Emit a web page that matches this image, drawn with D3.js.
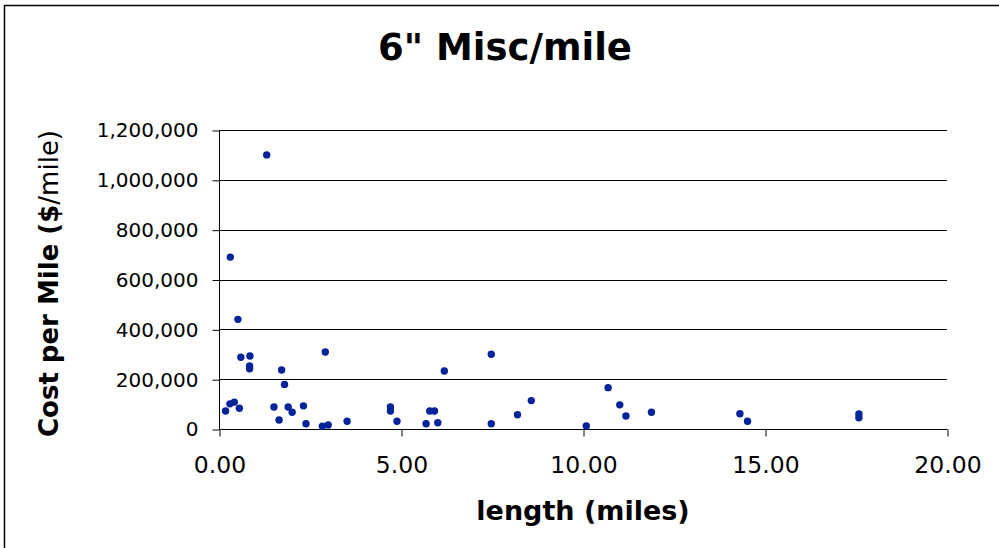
<!DOCTYPE html>
<html>
<head>
<meta charset="utf-8">
<script src="https://cdn.jsdelivr.net/npm/d3@7"></script>
<style>
  body { margin: 0; background: #fff; }
  svg text { font-family: "DejaVu Sans"; }
</style>
</head>
<body>
<svg id="chart" width="999" height="548"></svg>
<script>
// length of each segment (miles)
const lengths = [1.31, 0.31, 0.52, 0.60, 0.85, 0.84, 0.84, 1.72, 1.80, 2.92, 6.19,
  0.18, 0.30, 0.42, 0.56, 1.51, 1.65, 1.90, 2.01, 2.32, 2.39, 2.84, 3.00, 3.52,
  4.71, 4.71, 4.89, 5.69, 5.79, 5.92, 6.01, 7.48, 7.48, 8.20, 8.58, 10.09, 10.69,
  11.01, 11.18, 11.88, 14.31, 14.52, 17.58, 17.58];
// cost per mile ($/mile)
const costs = [1100000, 690000, 440000, 288000, 293000, 253000, 242000, 237000, 179000, 309000, 233000,
  72000, 101000, 108000, 83000, 88000, 36000, 88000, 67000, 93000, 21000, 11000, 16000, 31000,
  88000, 72000, 31000, 21000, 72000, 72000, 25000, 300000, 21000, 57000, 114000, 12000, 166000,
  97000, 52000, 67000, 61000, 31000, 60000, 45000];

const xTicks = [0, 5, 10, 15, 20];
const yTicks = [0, 200000, 400000, 600000, 800000, 1000000, 1200000];

const svg = d3.select("#chart");

const plotLeft = 219, plotRight = 947, plotTop = 130, plotBottom = 429;

const x = d3.scaleLinear().domain([0, 20]).range([plotLeft, plotRight]);
const y = d3.scaleLinear().domain([0, 1200000]).range([plotBottom, plotTop]);

// chart frame
svg.append("rect")
  .attr("x", 4.5).attr("y", 5.5)
  .attr("width", 1010).attr("height", 560)
  .attr("fill", "#fff")
  .attr("stroke", "#000")
  .attr("stroke-width", 1.5);

// title
svg.append("text")
  .attr("x", 505).attr("y", 60)
  .attr("text-anchor", "middle")
  .style("font-size", "37px")
  .style("font-weight", "bold")
  .text('6" Misc/mile');

// gridlines
svg.append("g")
  .selectAll("line")
  .data(yTicks.filter(d => d > 0))
  .enter()
  .append("line")
  .attr("x1", plotLeft).attr("x2", plotRight)
  .attr("y1", d => Math.round(y(d)) + 0.5)
  .attr("y2", d => Math.round(y(d)) + 0.5)
  .attr("stroke", "#000");

// y axis
const yAxis = d3.axisLeft(y)
  .tickValues(yTicks)
  .tickSize(7)
  .tickPadding(14)
  .tickFormat(d3.format(","));

svg.append("g")
  .attr("transform", `translate(${plotLeft + 0.5},0.5)`)
  .call(yAxis)
  .attr("font-family", null)
  .call(g => g.select(".domain").attr("d", `M0,${plotTop - 0.5}V${plotBottom}`))
  .call(g => g.selectAll("text").style("font-size", "20px").attr("fill", "#000"))
  .call(g => g.selectAll("line").attr("stroke", "#000"));

// x axis
const xAxis = d3.axisBottom(x)
  .tickValues(xTicks)
  .tickSize(7)
  .tickPadding(20)
  .tickFormat(d3.format(".2f"));

svg.append("g")
  .attr("transform", `translate(0.5,${plotBottom + 0.5})`)
  .call(xAxis)
  .attr("font-family", null)
  .call(g => g.select(".domain").attr("d", `M${plotLeft},0H${plotRight}`))
  .call(g => g.selectAll("text").style("font-size", "23.5px").attr("fill", "#000"))
  .call(g => g.selectAll("line").attr("stroke", "#000"));

// axis titles
svg.append("text")
  .attr("x", (plotLeft + plotRight) / 2).attr("y", 520)
  .attr("text-anchor", "middle")
  .style("font-size", "27px")
  .style("font-weight", "bold")
  .text("length (miles)");

const yTitle = svg.append("text")
  .attr("transform", `translate(58,${(plotTop + plotBottom) / 2 + 4}) rotate(-90)`)
  .attr("text-anchor", "middle")
  .style("font-size", "26px");
yTitle.append("tspan").style("font-weight", "bold").text("Cost per Mile ($");
yTitle.append("tspan").text("/mile)");

// points
svg.append("g")
  .selectAll("circle")
  .data(lengths.map((l, i) => ({ length: l, cost: costs[i] })))
  .enter()
  .append("circle")
  .attr("cx", d => x(d.length))
  .attr("cy", d => y(d.cost))
  .attr("r", 3.7)
  .attr("fill", "#02239a");
</script>
</body>
</html>
